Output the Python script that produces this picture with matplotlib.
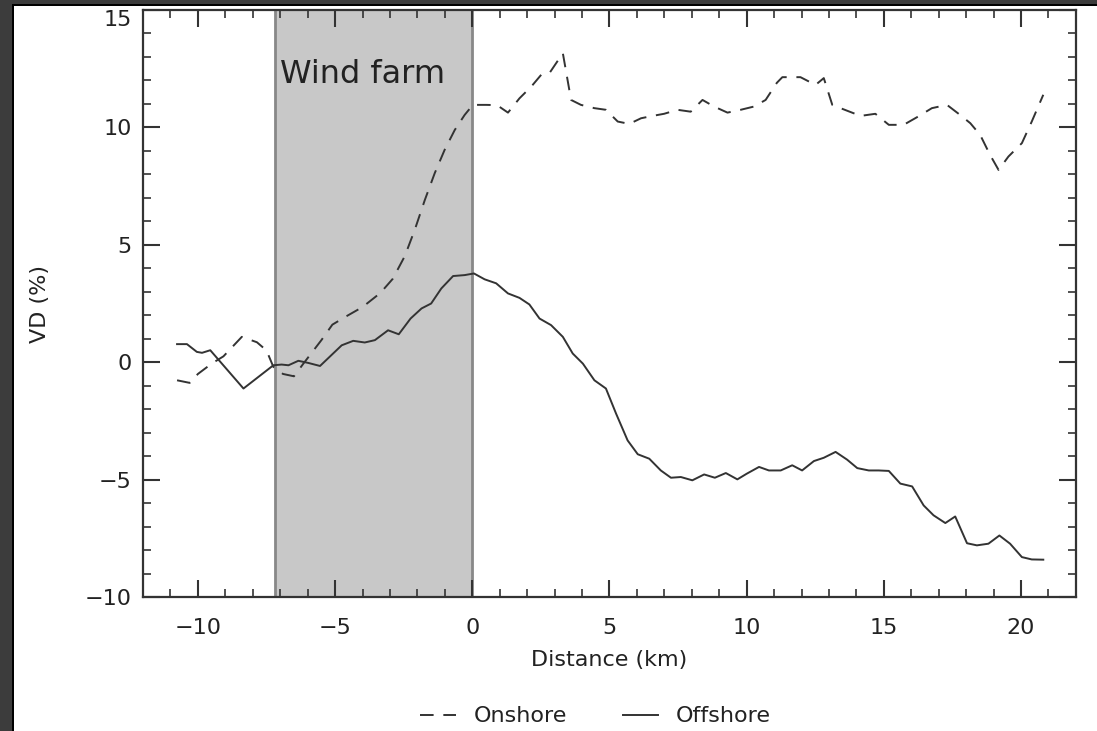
import numpy as np
import matplotlib
matplotlib.use('Agg')
import matplotlib.pyplot as plt
from matplotlib.patches import Rectangle

plt.rcParams['font.family'] = ['DejaVu Sans']

# offshore (solid) profile, distance in km and VD in %
off_x = [-10.76, -10.4, -10.04, -9.85, -9.55, -8.34, -7.25, -6.95, -6.7, -6.34, -5.98, -5.55,
         -4.76, -4.34, -3.92, -3.55, -3.07, -2.68, -2.25, -1.85, -1.5, -1.13, -0.7, -0.28, 0.06,
         0.45, 0.87, 1.30, 1.72, 2.08, 2.45, 2.87, 3.30, 3.66, 4.03, 4.45, 4.87, 5.24, 5.66,
         6.03, 6.45, 6.87, 7.24, 7.6, 8.02, 8.45, 8.84, 9.24, 9.66, 10.0, 10.45, 10.81, 11.24,
         11.66, 12.02, 12.45, 12.81, 13.24, 13.66, 14.03, 14.45, 14.81, 15.18, 15.6, 16.03,
         16.45, 16.81, 17.24, 17.6, 18.03, 18.39, 18.81, 19.21, 19.6, 20.03, 20.39, 20.81]
off_y = [0.77, 0.77, 0.44, 0.40, 0.51, -1.12, -0.13, -0.10, -0.13, 0.06, -0.03, -0.16,
         0.72, 0.91, 0.84, 0.94, 1.36, 1.19, 1.86, 2.29, 2.50, 3.14, 3.67, 3.71, 3.78,
         3.53, 3.36, 2.93, 2.74, 2.46, 1.86, 1.58, 1.08, 0.37, -0.06, -0.77, -1.12, -2.19, -3.33,
         -3.92, -4.11, -4.61, -4.92, -4.89, -5.03, -4.78, -4.92, -4.72, -4.99, -4.75, -4.46, -4.61, -4.61,
         -4.39, -4.61, -4.21, -4.07, -3.82, -4.15, -4.51, -4.61, -4.61, -4.63, -5.17, -5.29,
         -6.10, -6.52, -6.85, -6.57, -7.71, -7.80, -7.73, -7.38, -7.73, -8.30, -8.40, -8.41]

# onshore (dashed) profile
on_x = [-10.76, -10.3, -10.0, -9.5, -9.07, -8.4, -7.85, -7.5, -7.25, -6.9, -6.5, -6.15,
        -5.5, -5.1, -4.6, -4.0, -3.35, -2.9, -2.46, -2.1, -1.73, -1.37, -1.01, -0.64, -0.28,
        0.02, 0.5, 0.9, 1.3, 1.72, 2.15, 2.51, 2.81, 3.3, 3.6, 3.96, 4.45, 4.87, 5.3, 5.72,
        6.15, 6.57, 6.99, 7.48, 7.96, 8.39, 8.81, 9.3, 9.78, 10.27, 10.69, 11.1, 11.3, 11.96,
        12.51, 12.81, 13.12, 13.42, 14.15, 14.69, 15.18, 15.72, 16.2, 16.75, 17.3, 17.78,
        18.15, 18.51, 18.87, 19.18, 19.54, 20.03, 20.39, 20.81]
on_y = [-0.77, -0.88, -0.5, -0.06, 0.25, 1.08, 0.85, 0.5, -0.2, -0.5, -0.6, -0.05,
        0.94, 1.6, 1.95, 2.35, 2.95, 3.55, 4.52, 5.63, 6.91, 8.05, 9.04, 9.89, 10.53,
        10.96, 10.96, 10.95, 10.63, 11.24, 11.74, 12.24, 12.31, 13.16, 11.17, 10.96, 10.82, 10.75, 10.25, 10.15,
        10.39, 10.49, 10.58, 10.75, 10.67, 11.17, 10.89, 10.63, 10.75, 10.89, 11.17, 11.9, 12.14, 12.14,
        11.81, 12.1, 10.96, 10.82, 10.49, 10.58, 10.11, 10.11, 10.43, 10.82, 10.96, 10.53,
        10.18, 9.68, 8.83, 8.19, 8.76, 9.33, 10.25, 11.39]

farm_start, farm_end = -7.2, 0.0

lc = '#333333'
fig = plt.figure(figsize=(10.97, 7.31), dpi=100)
ax = fig.add_axes([0.1304, 0.1833, 0.8504, 0.803])

ax.axvspan(farm_start, farm_end, facecolor='#c8c8c8', edgecolor='none', zorder=0)
ax.axvline(farm_start, color='#888888', lw=2, zorder=1)
ax.axvline(farm_end, color='#888888', lw=2, zorder=1)
ax.text(-7.0, 12.25, 'Wind farm', fontsize=23, color='#222222', va='center', ha='left')

ax.plot(on_x, on_y, color=lc, lw=1.4, linestyle=(0, (7, 5)), label='Onshore')
ax.plot(off_x, off_y, color=lc, lw=1.4, label='Offshore')

ax.set_xlim(-12, 22)
ax.set_ylim(-10, 15)
ax.set_xticks([-10, -5, 0, 5, 10, 15, 20])
ax.set_yticks([-10, -5, 0, 5, 10, 15])
ax.set_xticks(np.arange(-12, 23, 1), minor=True)
ax.set_yticks(np.arange(-10, 16, 1), minor=True)
ax.set_xticklabels(['\u221210', '\u22125', '0', '5', '10', '15', '20'])
ax.set_yticklabels(['\u221210', '\u22125', '0', '5', '10', '15'])
ax.get_yticklabels()[-1].set_va('top')
ax.tick_params(which='both', direction='in', top=True, right=True, color=lc,
               labelsize=16, labelcolor='#222222')
ax.tick_params(which='major', length=12, width=1.5)
ax.tick_params(which='minor', length=6, width=1.2)
ax.tick_params(axis='x', pad=15)
ax.tick_params(axis='y', pad=8)
for s in ax.spines.values():
    s.set_color(lc)
    s.set_linewidth(1.6)

ax.set_xlabel('Distance (km)', fontsize=16, color='#222222', labelpad=9)
ax.set_ylabel('VD (%)', fontsize=16, color='#222222', labelpad=25)

ax.legend(loc='center', bbox_to_anchor=(0.543, 0.02), bbox_transform=fig.transFigure,
          ncol=2, frameon=False, fontsize=16, handlelength=1.6, columnspacing=2.5,
          labelcolor='#222222')

# dark frame of the scanned figure
fig.patches.append(Rectangle((0, 0), 12 / 1097, 1, transform=fig.transFigure,
                             facecolor='#3c3c3c', edgecolor='none', zorder=10))
fig.patches.append(Rectangle((0, 1 - 4 / 731), 1, 4 / 731, transform=fig.transFigure,
                             facecolor='#3c3c3c', edgecolor='none', zorder=10))
fig.patches.append(Rectangle((12 / 1097, 0), 1.5 / 1097, 1 - 4 / 731, transform=fig.transFigure,
                             facecolor='black', edgecolor='none', zorder=10))
fig.patches.append(Rectangle((12 / 1097, 1 - 5.5 / 731), 1, 1.5 / 731, transform=fig.transFigure,
                             facecolor='black', edgecolor='none', zorder=10))

fig.savefig('out.png', dpi=100)
